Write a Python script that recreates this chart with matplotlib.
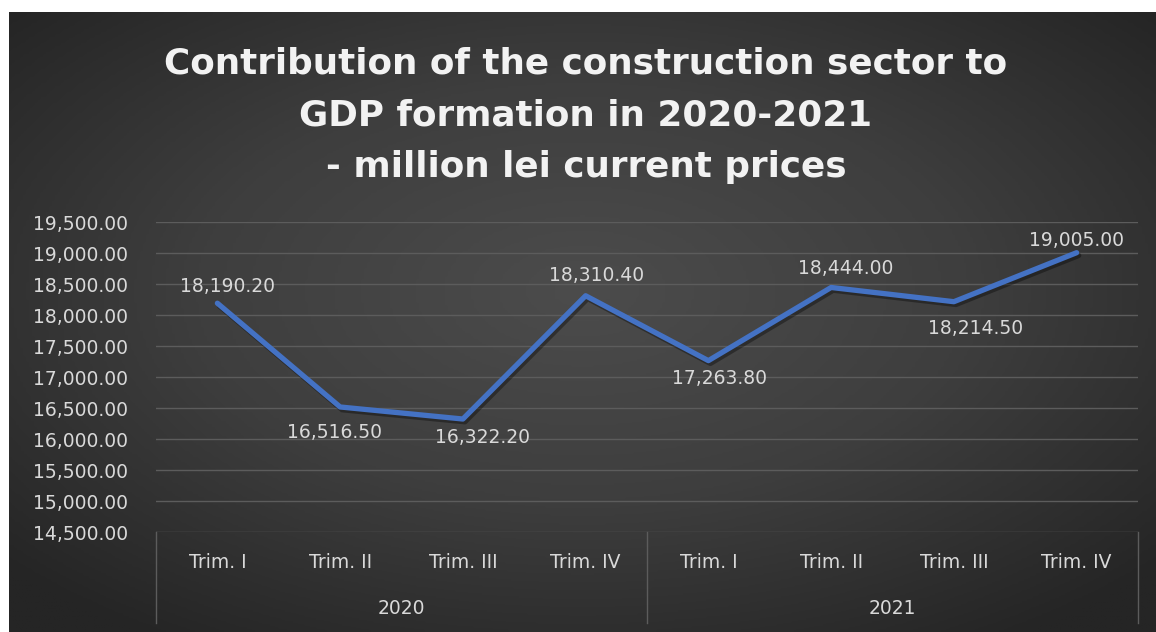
import numpy as np
import matplotlib
matplotlib.use("Agg")
import matplotlib.pyplot as plt
import matplotlib.patheffects as pe
from matplotlib.colors import LinearSegmentedColormap
from matplotlib.font_manager import FontProperties

# ---- data ----
years = ["2020", "2021"]
quarters = ["Trim. I", "Trim. II", "Trim. III", "Trim. IV"]
values = [18190.20, 16516.50, 16322.20, 18310.40, 17263.80, 18444.00, 18214.50, 19005.00]
title_lines = ["Contribution of the construction sector to",
               "GDP formation in 2020-2021",
               "- million lei current prices"]
ymin, ymax, ystep = 14500, 19500, 500

# label offsets from each point in pixels (dx right, dy down) -- styling only
label_dx = [10, -6, 20, 11, 11, 15, 22, 0]
label_dy = [-17, 26, 18, -20, 18, -19, 27, -12]

W, H = 1156, 632
fig = plt.figure(figsize=(W / 100, H / 100), dpi=100)
fig.patch.set_facecolor("white")
renderer = fig.canvas.get_renderer()

def text_width(s, family, size, weight="normal"):
    fp = FontProperties(family=family, size=size, weight=weight)
    w, h, d = renderer.get_text_width_height_descent(s, fp, ismath=False)
    return w

def fit_size(s, family, target_w, weight="normal"):
    w0 = text_width(s, family, 10, weight)
    return 10 * target_w / w0

# background with radial gradient
bg = fig.add_axes([9 / W, 0, 1 - 9 / W, 1 - 12 / H])
bg.set_axis_off()
nx, ny = 400, 220
xx, yy = np.meshgrid(np.linspace(-1, 1, nx), np.linspace(-1, 1, ny))
r = np.sqrt(xx ** 2 + (yy + 0.1) ** 2)
r = np.clip(r / 1.35, 0, 1)
cmap = LinearSegmentedColormap.from_list("bg", ["#4c4c4c", "#3e3e3e", "#252525"])
bg.imshow(r, cmap=cmap, aspect="auto", extent=[0, 1, 0, 1], vmin=0, vmax=1)
bg.set_xlim(0, 1)
bg.set_ylim(0, 1)

txt = "#d9d9d9"
font = "DejaVu Sans"
small = fit_size("19,500.00", font, 95)

# plot area
left, right = 156 / W, 1138 / W
bottom, top = (H - 532) / H, (H - 222) / H
ax = fig.add_axes([left, bottom, right - left, top - bottom])
ax.set_facecolor("none")
n = len(values)
x = np.arange(n)
ax.set_xlim(-0.5, n - 0.5)
ax.set_ylim(ymin, ymax)
yt = np.arange(ymin, ymax + 1, ystep)
ax.set_yticks(yt)
ax.set_yticklabels([f"{v:,.2f}" for v in yt], color=txt, fontsize=small, family=font)
ax.tick_params(axis="y", length=0, pad=20)
ax.set_xticks([])
for s in ax.spines.values():
    s.set_visible(False)
for v in yt:
    ax.axhline(v, color="#5c5c5c", lw=1.0, zorder=1)

line, = ax.plot(x, values, color="#4472c4", lw=3.8, solid_joinstyle="round",
                solid_capstyle="round", zorder=3)
line.set_path_effects([pe.SimpleLineShadow(offset=(1.5, -2), shadow_color="black", alpha=0.35),
                       pe.Normal()])

for xi, v, dx, dy in zip(x, values, label_dx, label_dy):
    ax.annotate(f"{v:,.2f}", (xi, v), xytext=(dx * 0.72, -dy * 0.72), textcoords="offset points",
                ha="center", va="center", color=txt, fontsize=small, family=font, zorder=4)

# category axis
tr = ax.get_xaxis_transform()
ph = 532 - 222
sep_bottom = -(623 - 532) / ph
for xs in [-0.5, 3.5, 7.5]:
    ax.plot([xs, xs], [0, sep_bottom], transform=tr, color="#5c5c5c", lw=1.0, clip_on=False)
q_y = -(563 - 532) / ph
y_y = -(609 - 532) / ph
for i in range(n):
    ax.text(i, q_y, quarters[i % 4], transform=tr, ha="center", va="center",
            color=txt, fontsize=small, family=font)
for j, yr in enumerate(years):
    ax.text(j * 4 + 1.5, y_y, yr, transform=tr, ha="center", va="center",
            color=txt, fontsize=small, family=font)

# title
tsize = fit_size(title_lines[0], font, 845, "bold")
tc = 586 / W
for t, yb in zip(title_lines, [73, 126, 177]):
    fig.text(tc, 1 - yb / H, t, ha="center", va="baseline", color="#f2f2f2",
             fontsize=tsize, fontweight="bold", family=font)

fig.savefig("out.png", dpi=100)
